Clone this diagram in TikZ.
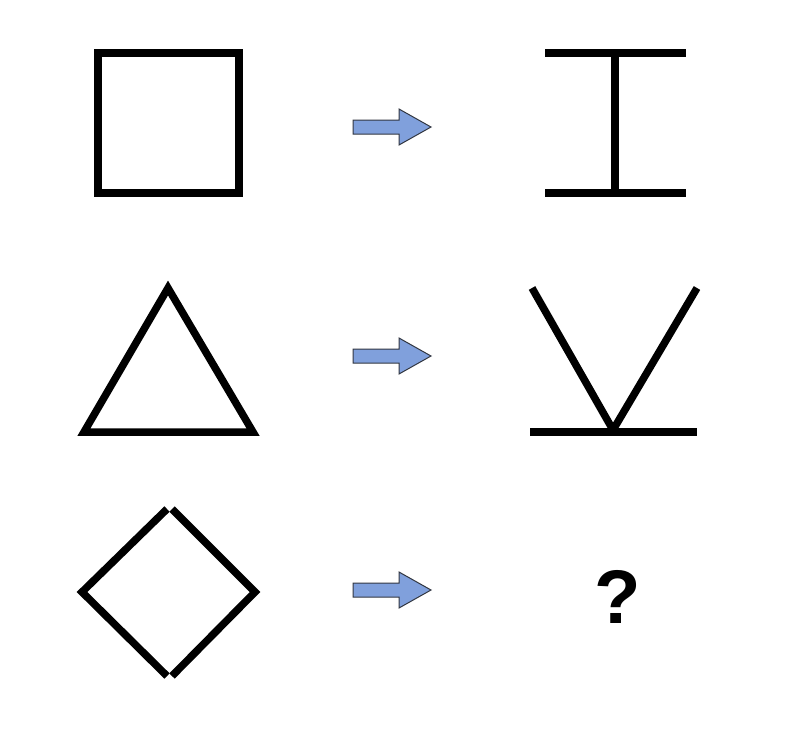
\documentclass[tikz,border=0pt]{standalone}
\usepackage{fontspec}
\setmainfont{Liberation Sans}
\definecolor{arrowfill}{RGB}{128,160,220}
\definecolor{arrowedge}{RGB}{50,55,65}
\begin{document}
\begin{tikzpicture}[x=1pt,y=-1pt,
  figline/.style={line width=7.5pt,black,line cap=butt,line join=miter},
  blockarrow/.style={fill=arrowfill,draw=arrowedge,line width=1pt,line join=miter}]
\useasboundingbox (0,0) rectangle (786,732);
% row 1
\draw[figline] (98,53) rectangle (239,193);
\coordinate (itl) at (545,53); \coordinate (itr) at (686,53);
\coordinate (ibl) at (545,193); \coordinate (ibr) at (686,193);
\coordinate (it) at (615,53); \coordinate (ib) at (615,193);
\draw[figline] (itl) -- (itr);
\draw[figline] (ibl) -- (ibr);
\draw[figline] (it) -- (ib);
% row 2
\draw[figline] (168,288) -- (253,432) -- (84,432) -- cycle;
\coordinate (vl) at (532,288); \coordinate (vr) at (697,288);
\coordinate (vb) at (613,430);
\draw[figline,line join=round] (vl) -- (vb) -- (vr);
\coordinate (bl) at (530,432); \coordinate (br) at (697,432);
\draw[figline] (bl) -- (br);
% row 3
\draw[figline] (167,509) -- (82,592) -- (167,676);
\draw[figline] (172,509) -- (255,592) -- (172,676);
\node[inner sep=0pt,font=\fontsize{76}{76}\selectfont\bfseries] (q) at (618,597) {?};
% arrows
\foreach \yy/\nm in {127/a1,356/a2,590/a3}{
  \draw[blockarrow] (353,\yy-7) -- (399,\yy-7) -- (399,\yy-18) -- (431,\yy) -- (399,\yy+18) -- (399,\yy+7) -- (353,\yy+7) -- cycle;
}
\end{tikzpicture}
\end{document}
